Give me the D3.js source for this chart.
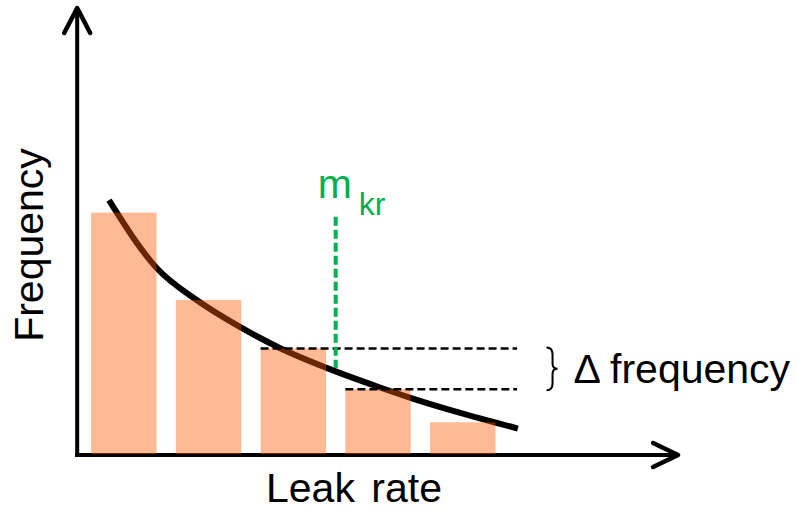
<!DOCTYPE html>
<html>
<head>
<meta charset="utf-8">
<script src="https://cdn.jsdelivr.net/npm/d3@7"></script>
<style>
  html, body { margin: 0; padding: 0; background: #fff; }
  svg { display: block; font-family: Arial, "Liberation Sans", sans-serif; }
</style>
</head>
<body>
<svg width="798" height="511"></svg>
<script>
// histogram bins (bin index) and their frequencies
var bins = [1, 2, 3, 4, 5]
var binFreq = [5.41, 3.46, 2.38, 1.47, 0.73]

// fitted curve
var curveRate = [0.825, 1.39, 1.86, 2.37, 2.84, 3.40, 3.99, 4.41, 4.97, 5.65]
var curveFreq = [5.69, 4.17, 3.46, 2.86, 2.39, 1.94, 1.53, 1.26, 0.94, 0.59]

// m_kr marker
var mkrRate = [3.5]
var mkrFreq = [5.32, 1.94]

var xLabel = 'Leak rate'
var yLabel = 'Frequency'
var deltaLabel = 'Δ frequency'

var svg = d3.select('svg')

var x = d3.scaleLinear().domain([0, 7]).range([39.05, 632.3])
var y = d3.scaleLinear().domain([0, 10]).range([455, 7])

var barHalf = 0.386
var orange = 'rgb(250,90,0)'
var green = '#00B050'

// fitted curve
var line = d3.line()
  .x(function (d) { return x(d[0]) })
  .y(function (d) { return y(d[1]) })
  .curve(d3.curveMonotoneX)

svg.append('path')
  .datum(d3.zip(curveRate, curveFreq))
  .attr('d', line)
  .attr('fill', 'none')
  .attr('stroke', '#000')
  .attr('stroke-width', 6)

// axes
var xStart = 0.45, xEnd = 7.54, yEnd = 10
svg.append('line')
  .attr('x1', x(xStart)).attr('y1', y(0) + 2)
  .attr('x2', x(xStart)).attr('y2', y(yEnd) + 1)
  .attr('stroke', '#000').attr('stroke-width', 4)
svg.append('line')
  .attr('x1', x(xStart) - 2).attr('y1', y(0))
  .attr('x2', x(xEnd) - 1).attr('y2', y(0))
  .attr('stroke', '#000').attr('stroke-width', 4)

// arrow heads
svg.append('polyline')
  .attr('points', [[x(xStart) - 13, y(yEnd) + 26], [x(xStart), y(yEnd) + 1], [x(xStart) + 13, y(yEnd) + 26]].join(' '))
  .attr('fill', 'none').attr('stroke', '#000').attr('stroke-width', 4.5)
  .attr('stroke-linecap', 'round').attr('stroke-linejoin', 'round')
svg.append('polyline')
  .attr('points', [[x(xEnd) - 25, y(0) - 12], [x(xEnd), y(0)], [x(xEnd) - 25, y(0) + 12]].join(' '))
  .attr('fill', 'none').attr('stroke', '#000').attr('stroke-width', 4.5)
  .attr('stroke-linecap', 'round').attr('stroke-linejoin', 'round')

// bars (semi transparent, drawn over the curve)
svg.append('g').selectAll('rect')
  .data(bins)
  .enter().append('rect')
  .attr('x', function (d) { return x(d - barHalf) })
  .attr('width', function (d) { return x(d + barHalf) - x(d - barHalf) })
  .attr('y', function (d, i) { return y(binFreq[i]) })
  .attr('height', function (d, i) { return y(0) - y(binFreq[i]) - 1 })
  .attr('fill', orange)
  .attr('fill-opacity', 0.42)

// dashed frequency levels for bins 3 and 4
var levelEnd = 5.64
svg.append('g').selectAll('line')
  .data([2, 3])
  .enter().append('line')
  .attr('x1', function (i) { return x(bins[i] - barHalf) })
  .attr('x2', x(levelEnd))
  .attr('y1', function (i) { return y(binFreq[i]) })
  .attr('y2', function (i) { return y(binFreq[i]) })
  .attr('stroke', '#000')
  .attr('stroke-width', 2.5)
  .attr('stroke-dasharray', '8,4')

// m_kr vertical
svg.append('line')
  .attr('x1', x(mkrRate[0])).attr('x2', x(mkrRate[0]))
  .attr('y1', y(mkrFreq[0])).attr('y2', y(mkrFreq[1]))
  .attr('stroke', green)
  .attr('stroke-width', 4)
  .attr('stroke-dasharray', '9,4')

var mkr = svg.append('text')
  .attr('x', x(mkrRate[0]) - 18)
  .attr('y', 198)
  .attr('fill', green)
  .attr('font-size', 41)
mkr.append('tspan').text('m')
mkr.append('tspan').attr('font-size', 32).attr('dx', 7).attr('dy', 17).text('kr')

// brace between the two levels
var bx = x(6), bTop = y(binFreq[2]), bBot = y(binFreq[3]), bMid = (bTop + bBot) / 2
svg.append('path')
  .attr('d', 'M' + (bx - 1) + ',' + (bTop - 1) +
    ' Q' + (bx + 5) + ',' + (bTop - 1) + ' ' + (bx + 5) + ',' + (bTop + 6) +
    ' L' + (bx + 5) + ',' + (bMid - 5) +
    ' Q' + (bx + 5) + ',' + bMid + ' ' + (bx + 10) + ',' + bMid +
    ' Q' + (bx + 5) + ',' + bMid + ' ' + (bx + 5) + ',' + (bMid + 5) +
    ' L' + (bx + 5) + ',' + (bBot - 6) +
    ' Q' + (bx + 5) + ',' + (bBot + 1) + ' ' + (bx - 1) + ',' + (bBot + 1))
  .attr('fill', 'none')
  .attr('stroke', '#000')
  .attr('stroke-width', 2)

svg.append('text')
  .attr('x', bx + 26)
  .attr('y', 383)
  .attr('font-size', 41)
  .attr('fill', '#000')
  .text(deltaLabel)

// axis titles
svg.append('text')
  .attr('x', 354)
  .attr('y', 502)
  .attr('text-anchor', 'middle')
  .attr('font-size', 41)
  .attr('word-spacing', 5)
  .text(xLabel)

svg.append('text')
  .attr('transform', 'translate(43,245) rotate(-90)')
  .attr('text-anchor', 'middle')
  .attr('font-size', 41)
  .text(yLabel)
</script>
</body>
</html>
